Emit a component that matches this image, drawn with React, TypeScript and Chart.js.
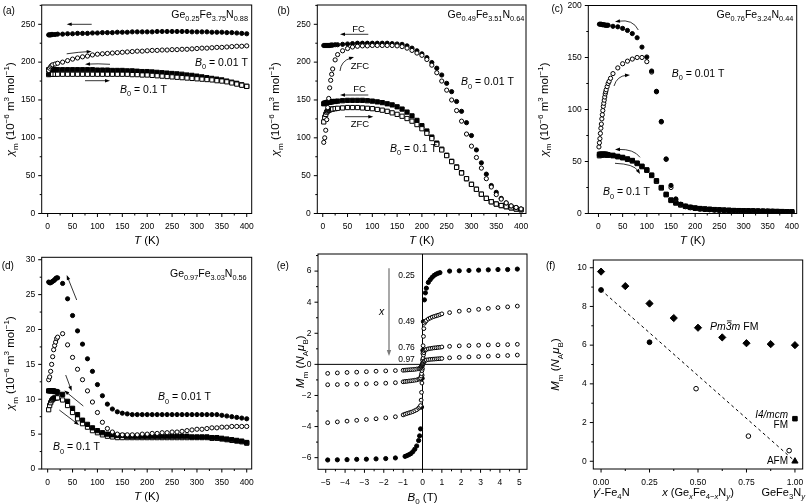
import React, { useEffect, useRef } from 'react';
import { Chart, registerables } from 'chart.js';

Chart.register(...registerables);

/* ================= DATA ================= */
// (a) Ge0.25Fe3.75N0.88
const aT = [2, 4, 6, 8, 10, 15, 20, 30, 40, 50, 60, 70, 80, 90, 100, 110, 120, 130, 140, 150, 160, 170, 180, 190, 200, 210, 220, 230, 240, 250, 260, 270, 280, 290, 300, 310, 320, 330, 340, 350, 360, 370, 380, 390, 400];
const aFC001 = [236, 236, 236, 236.5, 236.5, 236.5, 237, 237, 237.5, 237.5, 238, 238, 238, 238.5, 238.5, 239, 239, 239, 239.5, 239.5, 239.5, 240, 240, 240, 240, 240, 240.5, 240.5, 240.5, 240.5, 240.5, 240.5, 240.5, 240, 240, 240, 240, 239.5, 239.5, 239.5, 239, 239, 238.5, 238, 237.5];
const aZFC001 = [189, 192, 194, 195.5, 196.5, 197.5, 198.5, 200, 202, 204, 205.5, 207, 208, 209.5, 210.5, 211, 211.5, 212, 212.5, 213, 213.5, 214, 214.5, 214.5, 215, 215.5, 215.5, 216, 216, 216.5, 216.5, 217, 217, 217.5, 218, 218.5, 218.5, 219, 219.5, 219.5, 220, 220.5, 221, 221, 221.5];
const aFC01 = [190, 190, 190, 190, 190, 190, 190, 190, 190, 190, 190, 190, 190, 190, 189.5, 189.5, 189.5, 189, 189, 189, 188.5, 188.5, 188, 187.5, 187.5, 187, 186.5, 186, 185.5, 185, 184.5, 184, 183, 182.5, 181.5, 180.5, 179.5, 178.5, 177.5, 176.5, 175, 173.5, 172, 170, 168];
const aZFC01 = [183.5, 184, 184, 184, 184, 184, 184, 184, 184, 184, 184, 184, 184, 184, 184, 184, 184, 184, 184, 184, 184, 183.5, 183.5, 183, 183, 182.5, 182, 181.5, 181, 180.5, 180, 179.5, 179, 178.5, 178, 177.5, 177, 176.5, 175.5, 175, 174, 172.5, 171, 169.5, 168];

// (b) Ge0.49Fe3.51N0.64
const bT = [2, 4, 6, 8, 10, 12, 14, 16, 18, 20, 25, 30, 40, 50, 60, 70, 80, 90, 100, 110, 120, 130, 140, 150, 160, 170, 180, 190, 200, 210, 220, 230, 240, 250, 260, 270, 280, 290, 300, 310, 320, 330, 340, 350, 360, 370, 380, 390, 400];
const bFC001 = [222, 222, 222, 222, 222, 222, 222, 222.5, 222.5, 222.5, 223, 223, 223.5, 224, 224.5, 225, 225, 225, 225, 225, 225, 225, 224.5, 224, 223.5, 221.5, 218.5, 215, 211, 206, 199.5, 192, 183, 172, 161, 148, 135, 120, 103, 84, 67, 52, 37, 28, 20, 14, 10, 8, 6];
const bZFC001 = [94, 100, 110, 124, 140, 152, 166, 176, 184, 191, 203, 210, 215, 218, 220, 221, 221.5, 221.5, 222, 222, 222, 222, 222, 221.5, 220.5, 218.5, 215.5, 212, 209, 203.5, 196, 186, 175, 163, 150, 136, 122, 105, 89, 74, 60, 46, 35, 25, 19, 14, 10, 8, 6];
const bFC01 = [145, 146, 146, 146.5, 147, 147, 147, 147.5, 147.5, 148, 148, 148.5, 149, 149.5, 149.5, 149.5, 149.5, 149, 148.5, 147.5, 146.5, 145, 143.5, 141, 138, 134, 129, 123, 116, 109, 101, 93, 85, 77, 69, 61.5, 54, 46, 38.5, 32, 25.5, 20, 15.5, 12.5, 10.5, 9, 7.5, 6, 5];
const bZFC01 = [121, 127, 131, 134, 135.5, 136.5, 137, 137.5, 138, 138, 138.5, 139, 139.5, 140, 140, 140, 139.5, 139, 138.5, 137.5, 136.5, 135, 133, 131, 128.5, 125.5, 122, 117.5, 112, 106, 99, 91.5, 84, 76.5, 68.5, 61, 53.5, 46, 38.5, 32, 25.5, 20, 15.5, 12.5, 10.5, 9, 7.5, 6, 5];

// (c) Ge0.76Fe3.24N0.44
const cT = [2, 4, 6, 8, 10, 12, 14, 16, 18, 20, 30, 40, 50, 60, 70, 80, 90, 100, 110, 120, 130, 140, 150, 160, 170, 180, 190, 200, 210, 220, 230, 240, 250, 260, 270, 280, 290, 300, 310, 320, 330, 340, 350, 360, 370, 380, 390, 400];
const cFC001 = [182, 182, 182, 181.5, 181.5, 181.5, 181, 181, 181, 181, 180, 179.5, 178, 176, 173, 169, 160, 150.5, 137, 117.5, 88.5, 52.5, 27, 14, 9, 7, 6, 5, 4.5, 4, 3.8, 3.5, 3.3, 3.1, 3, 2.8, 2.7, 2.6, 2.5, 2.4, 2.3, 2.2, 2.1, 2, 1.9, 1.8, 1.7, 1.6];
const cTZ = [1, 2, 3, 4, 5, 6, 7, 8, 9, 10, 11, 12, 13, 14, 15, 16, 18, 20, 22, 25, 30, 40, 50, 60, 70, 80, 90, 100, 110, 120, 130, 140, 150, 160, 170, 180, 190, 200, 210, 220, 230, 240, 250, 260, 270, 280, 290, 300, 310, 320, 330, 340, 350, 360, 370, 380, 390, 400];
const cZFC001 = [64, 68, 72, 77, 82, 86, 91, 95, 99, 103, 106, 109, 112, 115, 117, 119, 122, 125, 127, 130, 134.5, 140, 144, 146.5, 148.5, 150, 150, 146, 136, 117, 88, 52, 25, 13.5, 8.5, 6.5, 5.5, 4.8, 4.3, 3.9, 3.6, 3.4, 3.2, 3, 2.9, 2.7, 2.6, 2.5, 2.4, 2.3, 2.2, 2.1, 2, 1.9, 1.8, 1.7, 1.6, 1.5];
const cFC01 = [57, 57, 57, 57, 57, 57, 57, 57, 56.5, 56.5, 56, 55, 54, 52.5, 51, 48.5, 45.5, 42, 37, 31.5, 25, 18.5, 13, 10.5, 8.5, 7, 6, 5.3, 4.8, 4.4, 4.1, 3.8, 3.5, 3.3, 3.1, 2.9, 2.8, 2.7, 2.6, 2.5, 2.4, 2.3, 2.2, 2.1, 2, 1.9, 1.8, 1.7];
const cZFC01 = [55.5, 56, 56, 56.5, 56.5, 56.5, 56.5, 56.5, 56, 56, 55.5, 54.5, 53.5, 52, 50.5, 48, 45, 41.5, 36.5, 31, 24.5, 18, 12.5, 10, 8.2, 6.8, 5.8, 5.1, 4.6, 4.2, 3.9, 3.6, 3.4, 3.2, 3, 2.8, 2.7, 2.6, 2.5, 2.4, 2.3, 2.2, 2.1, 2, 1.9, 1.8, 1.7, 1.6];

// (d) Ge0.97Fe3.03N0.56
const dT = [2, 4, 6, 8, 10, 12, 14, 16, 18, 20, 30, 40, 50, 60, 70, 80, 90, 100, 110, 120, 130, 140, 150, 160, 170, 180, 190, 200, 210, 220, 230, 240, 250, 260, 270, 280, 290, 300, 310, 320, 330, 340, 350, 360, 370, 380, 390, 400];
const dFC001 = [26.8, 26.7, 26.7, 26.8, 26.9, 27, 27.1, 27.3, 27.4, 27.4, 26.6, 24.4, 22, 19.8, 17.9, 15.8, 14, 12.1, 10.5, 9.3, 8.6, 8.2, 8, 7.9, 7.8, 7.8, 7.8, 7.8, 7.8, 7.8, 7.8, 7.8, 7.8, 7.8, 7.8, 7.8, 7.8, 7.8, 7.8, 7.8, 7.8, 7.8, 7.7, 7.6, 7.5, 7.4, 7.3, 7.2];
const dZFC001 = [12.8, 13.2, 14, 15, 16.1, 17.1, 17.7, 18.2, 18.7, 18.9, 19.4, 17.8, 16, 14.3, 12.8, 11.2, 9.6, 8.1, 6.7, 5.8, 5.3, 5, 4.9, 4.9, 4.9, 4.9, 5, 5, 5.1, 5.1, 5.2, 5.2, 5.3, 5.3, 5.4, 5.5, 5.6, 5.7, 5.7, 5.8, 5.9, 5.9, 6, 6, 6.1, 6.1, 6.1, 6.1];
const dFC01 = [11.2, 11.2, 11.2, 11.2, 11.2, 11.2, 11.1, 11.1, 11.1, 11, 10.7, 9.7, 8.7, 7.8, 7, 6.4, 5.9, 5.5, 5.2, 5, 4.9, 4.8, 4.8, 4.7, 4.7, 4.7, 4.7, 4.7, 4.7, 4.7, 4.7, 4.7, 4.7, 4.7, 4.7, 4.7, 4.6, 4.6, 4.6, 4.6, 4.5, 4.5, 4.4, 4.3, 4.2, 4.1, 4, 3.8];
const dZFC01 = [8.5, 9.1, 9.5, 9.8, 10, 10.1, 10.2, 10.2, 10.2, 10.2, 9.9, 9.1, 8.1, 7.2, 6.5, 6, 5.5, 5.2, 4.9, 4.7, 4.6, 4.5, 4.5, 4.5, 4.5, 4.5, 4.5, 4.5, 4.5, 4.5, 4.5, 4.5, 4.5, 4.5, 4.5, 4.5, 4.5, 4.5, 4.5, 4.5, 4.4, 4.4, 4.3, 4.2, 4.1, 4, 3.9, 3.7];

// (e) magnetisation loops, x = 0.25, 0.49, 0.76, 0.97
const eB25 = [-4.9, -4.4, -3.9, -3.4, -2.9, -2.4, -1.9, -1.4, -0.9, -0.8, -0.7, -0.6, -0.5, -0.4, -0.3, -0.2, -0.15, -0.1, -0.05, -0.02, 0.02, 0.05, 0.1, 0.15, 0.2, 0.3, 0.4, 0.5, 0.6, 0.7, 0.8, 0.9, 1.4, 1.9, 2.4, 2.9, 3.4, 3.9, 4.4, 4.9];
const eM25 = [-6.15, -6.14, -6.13, -6.11, -6.1, -6.08, -6.06, -6.02, -5.92, -5.87, -5.81, -5.74, -5.62, -5.46, -5.25, -4.9, -4.6, -4.15, -2.75, -0.9, 0.9, 2.75, 4.15, 4.6, 4.9, 5.27, 5.45, 5.6, 5.72, 5.8, 5.86, 5.9, 6, 6.02, 6.04, 6.06, 6.08, 6.1, 6.1, 6.13];
const eB = [-4.9, -4.4, -3.9, -3.4, -2.9, -2.4, -1.9, -1.4, -1.0, -0.9, -0.8, -0.7, -0.6, -0.5, -0.4, -0.3, -0.2, -0.15, -0.1, -0.07, -0.05, -0.03, -0.02, -0.01, 0.01, 0.02, 0.03, 0.05, 0.07, 0.1, 0.15, 0.2, 0.3, 0.4, 0.5, 0.6, 0.7, 0.8, 0.9, 1.0, 1.4, 1.9, 2.4, 2.9, 3.4, 3.9, 4.4, 4.9];
const eM49 = [-3.75, -3.7, -3.65, -3.6, -3.55, -3.5, -3.44, -3.37, -3.25, -3.2, -3.16, -3.12, -3.08, -3.04, -2.98, -2.92, -2.82, -2.75, -2.65, -2.3, -1.8, -1.2, -0.7, -0.3, 0.3, 0.7, 1.2, 1.8, 2.3, 2.65, 2.75, 2.82, 2.92, 2.98, 3.04, 3.08, 3.12, 3.16, 3.2, 3.25, 3.33, 3.42, 3.48, 3.54, 3.6, 3.65, 3.7, 3.75];
const eM76 = [-1.31, -1.3, -1.28, -1.27, -1.25, -1.23, -1.21, -1.18, -1.12, -1.1, -1.09, -1.07, -1.06, -1.04, -1.02, -1.0, -0.96, -0.93, -0.88, -0.75, -0.6, -0.4, -0.25, -0.1, 0.1, 0.25, 0.4, 0.6, 0.75, 0.88, 0.93, 0.96, 1.0, 1.02, 1.04, 1.06, 1.07, 1.09, 1.1, 1.12, 1.16, 1.19, 1.21, 1.23, 1.25, 1.26, 1.27, 1.29];
const eM97 = [-0.58, -0.55, -0.52, -0.5, -0.47, -0.44, -0.42, -0.4, -0.38, -0.37, -0.36, -0.35, -0.34, -0.33, -0.32, -0.3, -0.28, -0.26, -0.22, -0.17, -0.12, -0.08, -0.05, -0.02, 0.02, 0.05, 0.08, 0.12, 0.17, 0.22, 0.26, 0.28, 0.3, 0.32, 0.33, 0.34, 0.35, 0.36, 0.37, 0.38, 0.42, 0.45, 0.48, 0.5, 0.53, 0.55, 0.57, 0.6];
const eLabels = ['0.25', '0.49', '0.76', '0.97'];

// (f) moment versus composition
const fDiaX = [0, 0.125, 0.25, 0.375, 0.5, 0.625, 0.75, 0.875, 1.0];
const fDiaY = [9.8, 9.05, 8.15, 7.4, 6.9, 6.4, 6.1, 6.05, 6.0];
const fSolX = [0, 0.25];
const fSolY = [8.85, 6.15];
const fOpenX = [0.49, 0.76, 0.97];
const fOpenY = [3.75, 1.3, 0.55];
const fSqX = [1.0];
const fSqY = [2.2];
const fTriX = [1.0];
const fTriY = [0.0];
const fFitX = [0, 1.0];
const fFitY = [8.85, 0.0];

/* ================= HELPERS ================= */
type Seg = { t: string; s?: 'sub' | 'sup'; i?: boolean; ol?: boolean };
const S = (t: string, o: any = {}): Seg => ({ t, ...o });

const FF = '"Liberation Sans", Arial, Helvetica, sans-serif';
const M = 50, PW = 806, PH = 504, CW = PW + 2 * M, CH = PH + 2 * M;
const YW = 60, XH = 40;

const pts = (xs: number[], ys: number[]) => xs.map((x, i) => ({ x, y: ys[i] }));
const solidDs = (data: any[], style: string, r: number) => ({
  data, pointStyle: style, pointRadius: r, pointHoverRadius: r,
  pointBackgroundColor: '#000', pointBorderColor: '#000', pointBorderWidth: 1, showLine: false,
});
const openDs = (data: any[], style: string, r: number) => ({
  data, pointStyle: style, pointRadius: r, pointHoverRadius: r,
  pointBackgroundColor: '#fff', pointBorderColor: '#000', pointBorderWidth: 1, showLine: false,
});

function fontOf(sg: Seg, size: number) {
  const fs = sg.s ? size * 0.7 : size;
  return `${sg.i ? 'italic ' : ''}${fs}px ${FF}`;
}
function drawRich(ctx: any, segs: Seg[], x: number, y: number, size: number, align = 'left', rot = 0, color = '#000') {
  ctx.save();
  ctx.translate(x, y);
  if (rot) ctx.rotate(rot);
  let w = 0;
  for (const sg of segs) { ctx.font = fontOf(sg, size); w += ctx.measureText(sg.t).width; }
  let cx = align === 'left' ? 0 : align === 'center' ? -w / 2 : -w;
  const base = size * 0.36;
  ctx.fillStyle = color; ctx.strokeStyle = color;
  ctx.textAlign = 'left'; ctx.textBaseline = 'alphabetic';
  for (const sg of segs) {
    ctx.font = fontOf(sg, size);
    const dy = sg.s === 'sub' ? size * 0.3 : sg.s === 'sup' ? -size * 0.42 : 0;
    ctx.fillText(sg.t, cx, base + dy);
    const sw = ctx.measureText(sg.t).width;
    if (sg.ol) {
      ctx.lineWidth = 0.8;
      ctx.beginPath(); ctx.moveTo(cx + sw * 0.2, base - size * 0.85); ctx.lineTo(cx + sw, base - size * 0.85); ctx.stroke();
    }
    cx += sw;
  }
  ctx.restore();
}
function drawArrow(ctx: any, a: any) {
  const col = a.color || '#000';
  ctx.save();
  ctx.strokeStyle = col; ctx.fillStyle = col; ctx.lineWidth = a.w || 0.8;
  const hasC = a.cx !== undefined;
  const fx = hasC ? a.cx : a.x1, fy = hasC ? a.cy : a.y1;
  const ang = Math.atan2(a.y2 - fy, a.x2 - fx);
  const hl = a.hl || 5, hw = a.hw || 1.8;
  const ex = a.x2 - Math.cos(ang) * hl * 0.7, ey = a.y2 - Math.sin(ang) * hl * 0.7;
  ctx.beginPath(); ctx.moveTo(a.x1, a.y1);
  if (hasC) ctx.quadraticCurveTo(a.cx, a.cy, ex, ey); else ctx.lineTo(ex, ey);
  ctx.stroke();
  const bx = a.x2 - Math.cos(ang) * hl, by = a.y2 - Math.sin(ang) * hl;
  ctx.beginPath();
  ctx.moveTo(a.x2, a.y2);
  ctx.lineTo(bx + Math.sin(ang) * hw, by - Math.cos(ang) * hw);
  ctx.lineTo(bx - Math.sin(ang) * hw, by + Math.cos(ang) * hw);
  ctx.closePath(); ctx.fill();
  ctx.restore();
}

const formula = (g: string, f: string, n: string) => [S('Ge'), S(g, { s: 'sub' }), S('Fe'), S(f, { s: 'sub' }), S('N'), S(n, { s: 'sub' })];
const bLabel = (v: string) => [S('B', { i: true }), S('0', { s: 'sub' }), S(` = ${v} T`)];
const CHI = [S('χ', { i: true }), S('m', { s: 'sub' }), S(' (10'), S('−6', { s: 'sup' }), S(' m'), S('3', { s: 'sup' }), S(' mol'), S('−1', { s: 'sup' }), S(')')];
const TK = [S('T', { i: true }), S(' (K)')];
const MM = [S('M', { i: true }), S('m', { s: 'sub' }), S(' ('), S('N', { i: true }), S('A', { s: 'sub' }), S('μ', { i: true }), S('B', { s: 'sub' }), S(')')];
const BT = [S('B', { i: true }), S('0', { s: 'sub' }), S(' (T)')];

const txt = (x: number, y: number, segs: Seg[], size: number, align = 'left', color = '#000') => ({ k: 't', x, y, segs, size, align, color });
const arr = (x1: number, y1: number, x2: number, y2: number, extra: any = {}) => ({ k: 'a', x1, y1, x2, y2, ...extra });

const minus = (v: number) => (v < 0 ? '−' + String(Math.abs(v)) : String(v));

/* ================= PANELS ================= */
const panels: any[] = [
  {
    area: { l: 41.7, t: 5, r: 251.7, b: 213.5 },
    x: { min: -12, max: 410, step: 50, minor: 25, fmt: minus },
    y: { min: 0, max: 275.5, step: 50, minor: 25, fmt: minus },
    datasets: [
      openDs(pts(aT, aZFC001), 'circle', 2.1),
      solidDs(pts(aT, aFC001), 'circle', 2.1),
      openDs(pts(aT, aZFC01), 'rect', 3.0),
      solidDs(pts(aT, aFC01), 'rect', 3.0),
    ],
    letter: { x: 2.7, y: 10, t: '(a)' },
    yTitle: { x: 10, segs: CHI },
    xTitle: { y: 239.5, segs: TK },
    anns: [
      txt(248, 14.5, formula('0.25', '3.75', '0.88'), 10.5, 'right'),
      arr(91.7, 24.3, 66.7, 24.3),
      arr(66.7, 53.8, 91.7, 51.5, { cx: 79, cy: 52 }),
      arr(110, 64.3, 85, 64.3, { cx: 97, cy: 63.5 }),
      arr(85, 80.7, 110, 80.7),
      txt(195, 62, bLabel('0.01'), 10.5),
      txt(120, 89, bLabel('0.1'), 10.5),
    ],
  },
  {
    area: { l: 317.3, t: 5, r: 526, b: 213.5 },
    x: { min: -11, max: 410, step: 50, minor: 25, fmt: minus },
    y: { min: 0, max: 275.5, step: 50, minor: 25, fmt: minus },
    datasets: [
      openDs(pts(bT, bZFC001), 'circle', 2.1),
      solidDs(pts(bT, bFC001), 'circle', 2.1),
      openDs(pts(bT, bZFC01), 'rect', 3.0),
      solidDs(pts(bT, bFC01), 'rect', 3.0),
    ],
    letter: { x: 277.5, y: 10, t: '(b)' },
    yTitle: { x: 275, segs: CHI },
    xTitle: { y: 239.5, segs: TK },
    anns: [
      txt(524.3, 14.5, formula('0.49', '3.51', '0.64'), 10.5, 'right'),
      txt(358.5, 28.3, [S('FC')], 9.5, 'center'),
      arr(368.3, 34.3, 340, 34.3),
      txt(360, 65.5, [S('ZFC')], 9.5, 'center'),
      arr(340, 71, 354, 57, { cx: 341, cy: 61 }),
      txt(461, 81.7, bLabel('0.01'), 10.5),
      txt(359.5, 88.3, [S('FC')], 9.5, 'center'),
      arr(368.3, 95, 340, 95),
      arr(345, 116.7, 373.3, 116.7),
      txt(360, 124, [S('ZFC')], 9.5, 'center'),
      txt(390, 148.3, bLabel('0.1'), 10.5),
    ],
  },
  {
    area: { l: 588.3, t: 5.5, r: 796.7, b: 213.5 },
    x: { min: -21, max: 410, step: 50, minor: 25, fmt: minus },
    y: { min: 0, max: 200, step: 50, minor: 25, fmt: minus },
    datasets: [
      solidDs(pts(cT, cFC001), 'circle', 2.1),
      openDs(pts(cTZ, cZFC001), 'circle', 2.1),
      solidDs(pts(cT, cFC01), 'rect', 3.0),
      openDs(pts(cT, cZFC01), 'rect', 3.0),
    ],
    letter: { x: 551.5, y: 8.5, t: '(c)' },
    yTitle: { x: 543.5, segs: CHI },
    xTitle: { y: 239.5, segs: TK },
    anns: [
      txt(793.3, 14.5, formula('0.76', '3.24', '0.44'), 10.5, 'right'),
      arr(638.3, 30, 615, 21.7, { cx: 633, cy: 19 }),
      arr(614, 86, 630, 75, { cx: 617, cy: 76 }),
      txt(671.7, 73.3, bLabel('0.01'), 10.5),
      arr(640, 157.3, 615, 149.5, { cx: 634, cy: 149 }),
      arr(615, 163.3, 640, 174, { cx: 634, cy: 164 }),
      txt(603, 191.7, bLabel('0.1'), 10.5),
    ],
  },
  {
    area: { l: 41.7, t: 257.3, r: 251.7, b: 469 },
    x: { min: -12, max: 410, step: 50, minor: 25, fmt: minus },
    y: { min: 0, max: 30.35, step: 5, minor: 2.5, fmt: minus },
    datasets: [
      openDs(pts(dT, dZFC001), 'circle', 2.1),
      solidDs(pts(dT, dFC001), 'circle', 2.1),
      solidDs(pts(dT, dFC01), 'rect', 3.0),
      openDs(pts(dT, dZFC01), 'rect', 3.0),
    ],
    letter: { x: 1.7, y: 265, t: '(d)' },
    yTitle: { x: 10, segs: CHI },
    xTitle: { y: 495.5, segs: TK },
    anns: [
      txt(246.7, 273.3, formula('0.97', '3.03', '0.56'), 10.5, 'right'),
      arr(76.7, 300, 66.7, 275),
      arr(65.7, 375, 71.7, 391),
      arr(83.3, 406, 64.3, 390.5),
      arr(59.3, 410, 79, 425),
      txt(158, 396.7, bLabel('0.01'), 10.5),
      txt(53, 446.7, bLabel('0.1'), 10.5),
    ],
  },
  {
    area: { l: 318, t: 254, r: 527, b: 469.3 },
    x: { min: -5.4, max: 5.4, step: 1, minor: 0.5, fmt: minus },
    y: { min: -6.75, max: 7.1, step: 2, minor: 1, fmt: minus },
    zero: true,
    datasets: [
      openDs(pts(eB, eM97), 'circle', 1.9),
      openDs(pts(eB, eM76), 'circle', 1.9),
      openDs(pts(eB, eM49), 'circle', 1.9),
      solidDs(pts(eB25, eM25), 'circle', 2.1),
    ],
    letter: { x: 276.7, y: 265, t: '(e)' },
    yTitle: { x: 300, segs: MM },
    xTitle: { y: 496.5, segs: BT },
    anns: [
      arr(389, 268.3, 389, 356, { color: '#7a7a7a', w: 1.3, hl: 6, hw: 2.2 }),
      txt(381.7, 311.7, [S('x', { i: true })], 10.5, 'center'),
      txt(398.3, 275, [S(eLabels[0])], 8.5),
      txt(398.3, 320.7, [S(eLabels[1])], 8.5),
      txt(398.3, 347, [S(eLabels[2])], 8.5),
      txt(398.3, 358.5, [S(eLabels[3])], 8.5),
    ],
  },
  {
    area: { l: 593.3, t: 260, r: 802.7, b: 469 },
    x: { min: -0.04, max: 1.04, step: 0.25, minor: 0.125, fmt: (v: number) => v.toFixed(2) },
    y: { min: -0.4, max: 10.4, step: 2, minor: 1, fmt: minus },
    datasets: [
      solidDs(pts(fDiaX, fDiaY), 'rectRot', 3.6),
      solidDs(pts(fSolX, fSolY), 'circle', 2.4),
      openDs(pts(fOpenX, fOpenY), 'circle', 2.3),
      solidDs(pts(fSqX, fSqY), 'rect', 3.2),
      solidDs(pts(fTriX, fTriY), 'triangle', 3.6),
      { data: pts(fFitX, fFitY), showLine: true, borderColor: '#000', borderWidth: 1, borderDash: [3, 3], pointRadius: 0, pointHoverRadius: 0 },
    ],
    letter: { x: 546, y: 265, t: '(f)' },
    yTitle: { x: 555, segs: MM },
    xTitle: null,
    anns: [
      txt(710, 326, [S('Pm', { i: true }), S('3', { i: true, ol: true }), S('m', { i: true }), S(' FM')], 10.5),
      txt(788, 414, [S('I4/mcm', { i: true })], 10, 'right'),
      txt(788, 424.5, [S('FM')], 10, 'right'),
      txt(788, 460, [S('AFM')], 10, 'right'),
      txt(593.3, 492, [S('γ', { i: true }), S('′-Fe'), S('4', { s: 'sub' }), S('N')], 11),
      txt(698, 492, [S('x', { i: true }), S(' (Ge'), S('x', { s: 'sub', i: true }), S('Fe'), S('4−', { s: 'sub' }), S('x', { s: 'sub', i: true }), S('N'), S('y', { s: 'sub', i: true }), S(')')], 11, 'center'),
      txt(805, 492, [S('GeFe'), S('3', { s: 'sub' }), S('N'), S('y', { s: 'sub', i: true })], 11, 'right'),
    ],
  },
];

/* ================= CHART BUILD ================= */
function decor(p: any) {
  return {
    id: 'decor',
    beforeDatasetsDraw(chart: any) {
      if (!p.zero) return;
      const ctx = chart.ctx, ca = chart.chartArea;
      const x0 = chart.scales.x.getPixelForValue(0), y0 = chart.scales.y.getPixelForValue(0);
      ctx.save();
      ctx.strokeStyle = '#000'; ctx.lineWidth = 1;
      ctx.beginPath();
      ctx.moveTo(x0, ca.top); ctx.lineTo(x0, ca.bottom);
      ctx.moveTo(ca.left, y0); ctx.lineTo(ca.right, y0);
      ctx.stroke();
      ctx.restore();
    },
    afterDatasetsDraw(chart: any) {
      const ctx = chart.ctx, ca = chart.chartArea;
      const xs = chart.scales.x, ys = chart.scales.y;
      ctx.save();
      ctx.strokeStyle = '#000'; ctx.lineWidth = 1;
      ctx.strokeRect(ca.left, ca.top, ca.right - ca.left, ca.bottom - ca.top);
      ctx.beginPath();
      const k0 = Math.ceil(p.x.min / p.x.minor - 1e-9), k1 = Math.floor(p.x.max / p.x.minor + 1e-9);
      for (let k = k0; k <= k1; k++) {
        const v = k * p.x.minor;
        const r = v / p.x.step;
        const major = Math.abs(r - Math.round(r)) < 1e-6;
        const px = xs.getPixelForValue(v);
        ctx.moveTo(px, ca.bottom); ctx.lineTo(px, ca.bottom + (major ? 3.5 : 2));
      }
      const j0 = Math.ceil(p.y.min / p.y.minor - 1e-9), j1 = Math.floor(p.y.max / p.y.minor + 1e-9);
      for (let k = j0; k <= j1; k++) {
        const v = k * p.y.minor;
        const r = v / p.y.step;
        const major = Math.abs(r - Math.round(r)) < 1e-6;
        const py = ys.getPixelForValue(v);
        ctx.moveTo(ca.left, py); ctx.lineTo(ca.left - (major ? 3.5 : 2), py);
      }
      ctx.stroke();
      ctx.translate(M, M);
      const a = p.area;
      drawRich(ctx, [S(p.letter.t)], p.letter.x, p.letter.y, 10, 'left');
      drawRich(ctx, p.yTitle.segs, p.yTitle.x, (a.t + a.b) / 2, 11.5, 'center', -Math.PI / 2);
      if (p.xTitle) drawRich(ctx, p.xTitle.segs, (a.l + a.r) / 2, p.xTitle.y, 11.5, 'center');
      for (const an of p.anns) {
        if (an.k === 't') drawRich(ctx, an.segs, an.x, an.y, an.size, an.align, 0, an.color);
        else drawArrow(ctx, an);
      }
      ctx.restore();
    },
  };
}

function buildConfig(p: any): any {
  const tickFont = { family: FF, size: 8.5 };
  return {
    type: 'scatter',
    data: { datasets: p.datasets },
    options: {
      animation: false,
      responsive: false,
      devicePixelRatio: 1,
      events: [],
      layout: {
        padding: {
          left: p.area.l + M - YW,
          top: p.area.t + M,
          right: CW - (p.area.r + M),
          bottom: CH - (p.area.b + M) - XH,
        },
      },
      plugins: { legend: { display: false }, tooltip: { enabled: false } },
      scales: {
        x: {
          type: 'linear', position: 'bottom', min: p.x.min, max: p.x.max,
          afterFit: (s: any) => { s.height = XH; },
          grid: { display: false, drawTicks: false },
          border: { display: false },
          ticks: {
            stepSize: p.x.step, includeBounds: false, autoSkip: false, maxRotation: 0, minRotation: 0,
            padding: 8.5, color: '#000', font: tickFont, callback: (v: number) => p.x.fmt(v),
          },
        },
        y: {
          type: 'linear', position: 'left', min: p.y.min, max: p.y.max,
          afterFit: (s: any) => { s.width = YW; },
          grid: { display: false, drawTicks: false },
          border: { display: false },
          ticks: {
            stepSize: p.y.step, includeBounds: false, autoSkip: false,
            padding: 6.5, color: '#000', font: tickFont, callback: (v: number) => p.y.fmt(v),
          },
        },
      },
    },
    plugins: [decor(p)],
  };
}

function Panel({ p }: { p: any }) {
  const ref = useRef<HTMLCanvasElement>(null);
  useEffect(() => {
    const c = ref.current;
    if (!c) return;
    const chart = new Chart(c, buildConfig(p));
    return () => chart.destroy();
  }, [p]);
  return (
    <canvas
      ref={ref}
      width={CW}
      height={CH}
      style={{ position: 'absolute', left: -M, top: -M, width: CW, height: CH }}
    />
  );
}

export default function App() {
  return (
    <div style={{ position: 'fixed', left: 0, top: 0, width: PW, height: PH, overflow: 'hidden', background: '#fff' }}>
      {panels.map((p, i) => (
        <Panel key={i} p={p} />
      ))}
    </div>
  );
}
